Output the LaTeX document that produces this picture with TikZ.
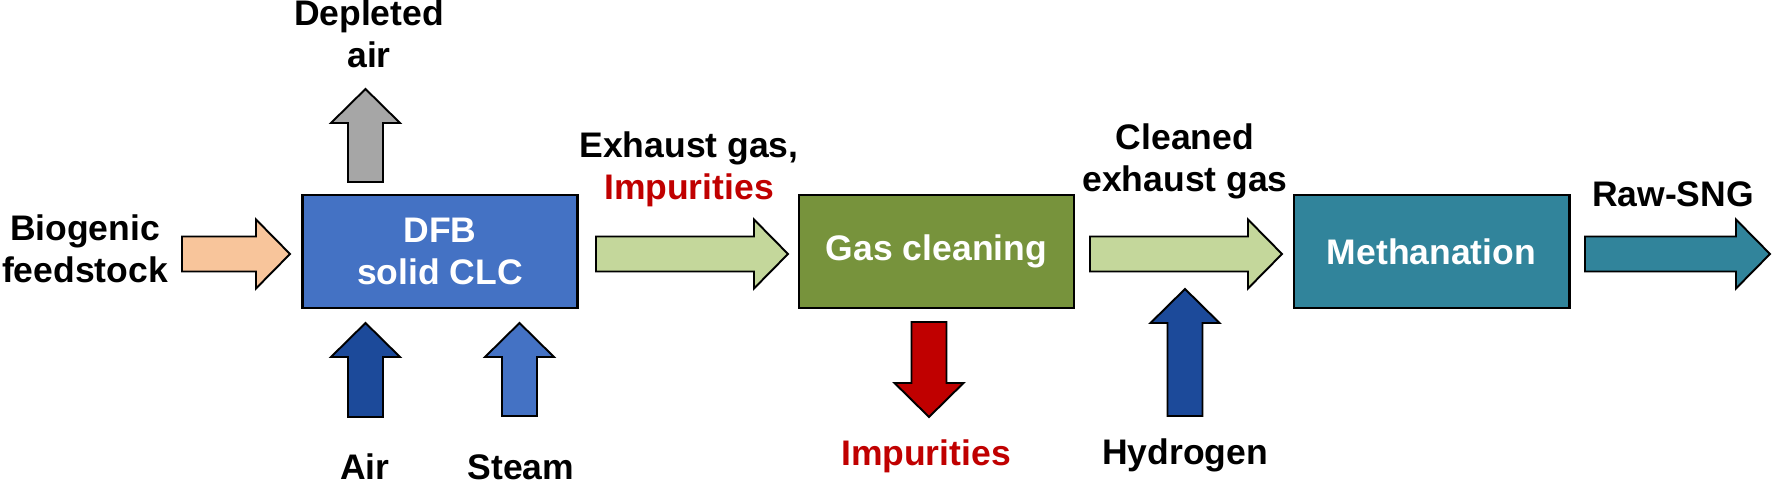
\documentclass[tikz,border=0pt]{standalone}
\usepackage{fontspec}
\setmainfont{Liberation Sans}
\usepackage{xcolor}
\usetikzlibrary{calc}
\definecolor{dfbblue}{HTML}{4472C4}
\definecolor{airblue}{HTML}{1C4A9A}
\definecolor{feedpeach}{HTML}{F8C59B}
\definecolor{gasgreen}{HTML}{C4D79B}
\definecolor{cleanolive}{HTML}{77933C}
\definecolor{methteal}{HTML}{31849B}
\definecolor{impred}{HTML}{C00000}
\definecolor{depgray}{HTML}{A6A6A6}
\tikzset{
  box/.style={draw=black, line width=0.8pt, minimum width=2.75cm, minimum height=1.13cm,
    text=white, align=center, font=\fontsize{10.1}{11.95}\selectfont\bfseries},
  lbl/.style={align=center, anchor=base, inner sep=0pt, font=\fontsize{10.1}{11.95}\selectfont\bfseries},
  barrow/.style={draw=black, line width=0.55pt}
}
% block arrow: style, tail, tip
\newcommand{\blockarrow}[3]{%
  \coordinate (ah) at ($(#3)!0.34cm!(#2)$);
  \filldraw[barrow,#1] ($(#2)!0.175cm!90:(#3)$) -- ($(ah)!0.175cm!-90:(#2)$)
    -- ($(ah)!0.345cm!-90:(#2)$) -- (#3) -- ($(ah)!0.345cm!90:(#2)$)
    -- ($(ah)!0.175cm!90:(#2)$) -- ($(#2)!0.175cm!-90:(#3)$) -- cycle;}
\begin{document}
\begin{tikzpicture}[x=0.01cm,y=-0.01cm]
        \useasboundingbox (0,0) rectangle (1772,483);
        %Boxes
        \node[box,fill=dfbblue] (dfb) at (440,251.5) {DFB\\solid CLC};
        \node[box,fill=cleanolive] (gas) at (936.5,251.5) {Gas cleaning};
        \node[box,fill=methteal] (meth) at (1431.5,251.5) {Methanation};
        %Arrow ends
        \coordinate (feed1) at (182,254);
        \coordinate (feed2) at (290,254);
        \coordinate (exh1) at (596,254);
        \coordinate (exh2) at (788,254);
        \coordinate (cln1) at (1090,254);
        \coordinate (cln2) at (1282,254);
        \coordinate (sng1) at (1585,254);
        \coordinate (sng2) at (1770,254);
        \coordinate (dep1) at (365.5,182);
        \coordinate (dep2) at (365.5,89);
        \coordinate (air1) at (365.5,417);
        \coordinate (air2) at (365.5,323);
        \coordinate (stm1) at (519.5,416);
        \coordinate (stm2) at (519.5,323);
        \coordinate (imp1) at (929,322);
        \coordinate (imp2) at (929,417);
        \coordinate (hyd1) at (1185,416);
        \coordinate (hyd2) at (1185,289);
        %Draw arrows
        \blockarrow{fill=feedpeach}{feed1}{feed2}
        \blockarrow{fill=gasgreen}{exh1}{exh2}
        \blockarrow{fill=gasgreen}{cln1}{cln2}
        \blockarrow{fill=methteal}{sng1}{sng2}
        \blockarrow{fill=depgray}{dep1}{dep2}
        \blockarrow{fill=airblue}{air1}{air2}
        \blockarrow{fill=dfbblue}{stm1}{stm2}
        \blockarrow{fill=impred}{imp1}{imp2}
        \blockarrow{fill=airblue}{hyd1}{hyd2}
        %Labels (base = last line)
        \node[lbl] (deplbl) at (369,68) {Depleted\\air};
        \node[lbl] (feedlbl) at (85,283) {Biogenic\\feedstock};
        \node[lbl] (airlbl) at (365,480) {Air};
        \node[lbl] (stmlbl) at (521,480) {Steam};
        \node[lbl] (exhlbl) at (689,200) {Exhaust gas,\\\textcolor{impred}{Impurities}};
        \node[lbl,text=impred] (implbl) at (926,466) {Impurities};
        \node[lbl] (cnllbl) at (1185,192) {Cleaned\\exhaust gas};
        \node[lbl] (hydlbl) at (1185,465) {Hydrogen};
        \node[lbl] (snglbl) at (1673,207) {Raw-SNG};
\end{tikzpicture}
\end{document}
